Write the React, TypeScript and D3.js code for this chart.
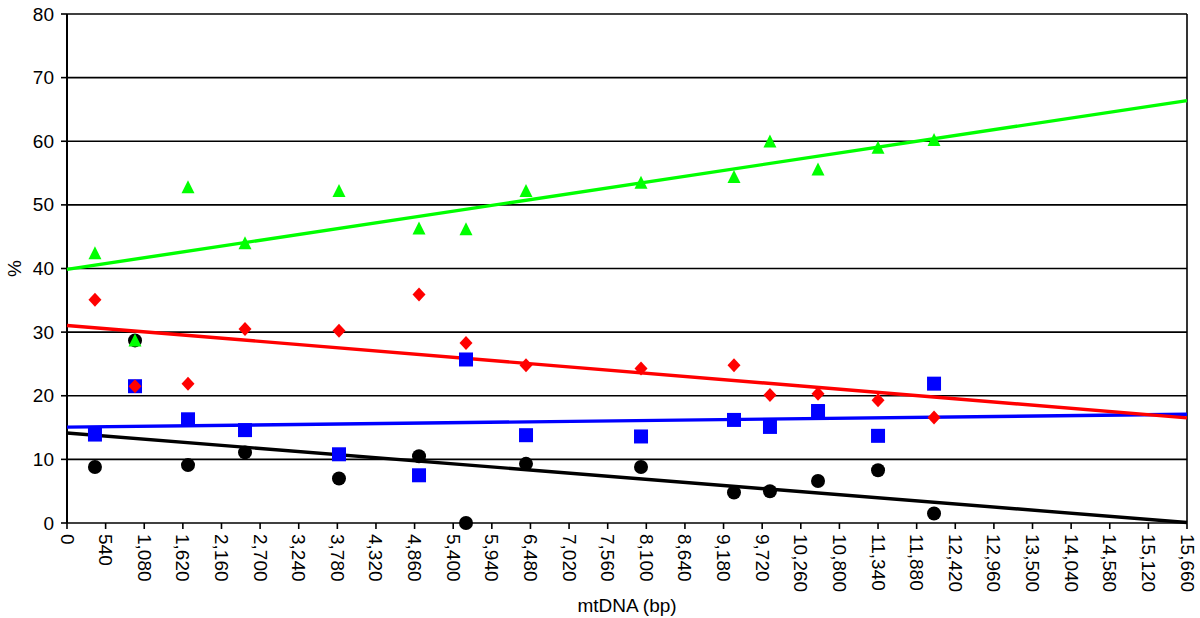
import React from "react";
import * as d3 from "d3";

const positions = [391, 951, 1692, 2489, 3803, 4922, 5579, 6418, 8026, 9326, 9829, 10501, 11340, 12123];
const greenValues = [42.3, 28.6, 52.7, 43.9, 52.1, 46.2, 46.1, 52.1, 53.4, 54.3, 59.9, 55.5, 58.9, 60.1];
const redValues = [35.1, 21.5, 21.9, 30.5, 30.2, 35.9, 28.3, 24.8, 24.3, 24.8, 20.1, 20.3, 19.3, 16.6];
const blueValues = [13.9, 21.5, 16.3, 14.6, 10.8, 7.5, 25.7, 13.8, 13.6, 16.2, 15.1, 17.6, 13.7, 21.9];
const blackValues = [8.8, 28.7, 9.1, 11.1, 7.0, 10.5, 0, 9.3, 8.8, 4.8, 5.0, 6.6, 8.3, 1.5];
const xTicks = d3.range(0, 15661, 540);
const yTicks = [0, 10, 20, 30, 40, 50, 60, 70, 80];

const series = [
  { name: "black", values: blackValues, color: "#000000", shape: "circle" },
  { name: "blue", values: blueValues, color: "#0000FF", shape: "square" },
  { name: "red", values: redValues, color: "#FF0000", shape: "diamond" },
  { name: "green", values: greenValues, color: "#00FF00", shape: "triangle" },
];

function regression(xs: number[], ys: number[]) {
  const mx = d3.mean(xs)!;
  const my = d3.mean(ys)!;
  let num = 0, den = 0;
  xs.forEach((x, i) => { num += (x - mx) * (ys[i] - my); den += (x - mx) ** 2; });
  const b = num / den;
  return { a: my - b * mx, b };
}

const W = 1200, H = 618;
const left = 67, right = 1187, top = 14, bottom = 523;

export default function App() {
  const x = d3.scaleLinear().domain([0, 15660]).range([left, right]);
  const y = d3.scaleLinear().domain([0, 80]).range([bottom, top]);
  const font = "'Liberation Sans', Arial, sans-serif";
  const fs = 19;

  const marker = (shape: string, cx: number, cy: number, color: string, key: string) => {
    if (shape === "circle") return <circle key={key} cx={cx} cy={cy} r={7} fill={color} />;
    if (shape === "square") return <rect key={key} x={cx - 7} y={cy - 7} width={14} height={14} fill={color} />;
    if (shape === "diamond") return <path key={key} d={`M${cx},${cy - 7}L${cx + 6.5},${cy}L${cx},${cy + 7}L${cx - 6.5},${cy}Z`} fill={color} />;
    return <path key={key} d={`M${cx},${cy - 7.5}L${cx + 6.5},${cy + 5.5}L${cx - 6.5},${cy + 5.5}Z`} fill={color} />;
  };

  return (
    <svg width={W} height={H} style={{ position: "absolute", left: 0, top: 0, background: "#fff" }}>
      <rect x={0} y={0} width={W} height={H} fill="#fff" />
      {yTicks.map((t) => (
        <line key={"g" + t} x1={left} x2={right} y1={y(t)} y2={y(t)} stroke="#000" strokeWidth={1.6} />
      ))}
      <line x1={left} x2={left} y1={top} y2={bottom} stroke="#000" strokeWidth={2} />
      <line x1={right} x2={right} y1={top} y2={bottom} stroke="#000" strokeWidth={1.6} />
      {yTicks.map((t) => (
        <g key={"yt" + t}>
          <line x1={left - 6} x2={left} y1={y(t)} y2={y(t)} stroke="#000" strokeWidth={1.6} />
          <text x={left - 13} y={y(t)} textAnchor="end" dominantBaseline="central" fontFamily={font} fontSize={fs}>{t}</text>
        </g>
      ))}
      {xTicks.map((t) => (
        <g key={"xt" + t}>
          <line x1={x(t)} x2={x(t)} y1={bottom} y2={bottom + 6} stroke="#000" strokeWidth={1.6} />
          <text transform={`translate(${x(t)},${bottom + 11}) rotate(90)`} textAnchor="start" dominantBaseline="central" fontFamily={font} fontSize={fs}>{d3.format(",")(t)}</text>
        </g>
      ))}
      <text transform={`translate(14,${y(40)}) rotate(-90)`} textAnchor="middle" dominantBaseline="central" fontFamily={font} fontSize={fs}>%</text>
      <text x={627} y={612} textAnchor="middle" fontFamily={font} fontSize={fs}>mtDNA (bp)</text>
      {series.map((s) => {
        const { a, b } = regression(positions, s.values);
        return (
          <line key={"l" + s.name} x1={x(0)} y1={y(a)} x2={x(15660)} y2={y(a + b * 15660)} stroke={s.color} strokeWidth={3.4} />
        );
      })}
      {series.map((s) => (
        <g key={s.name}>
          {positions.map((p, i) => marker(s.shape, x(p), y(s.values[i]), s.color, s.name + i))}
        </g>
      ))}
    </svg>
  );
}
